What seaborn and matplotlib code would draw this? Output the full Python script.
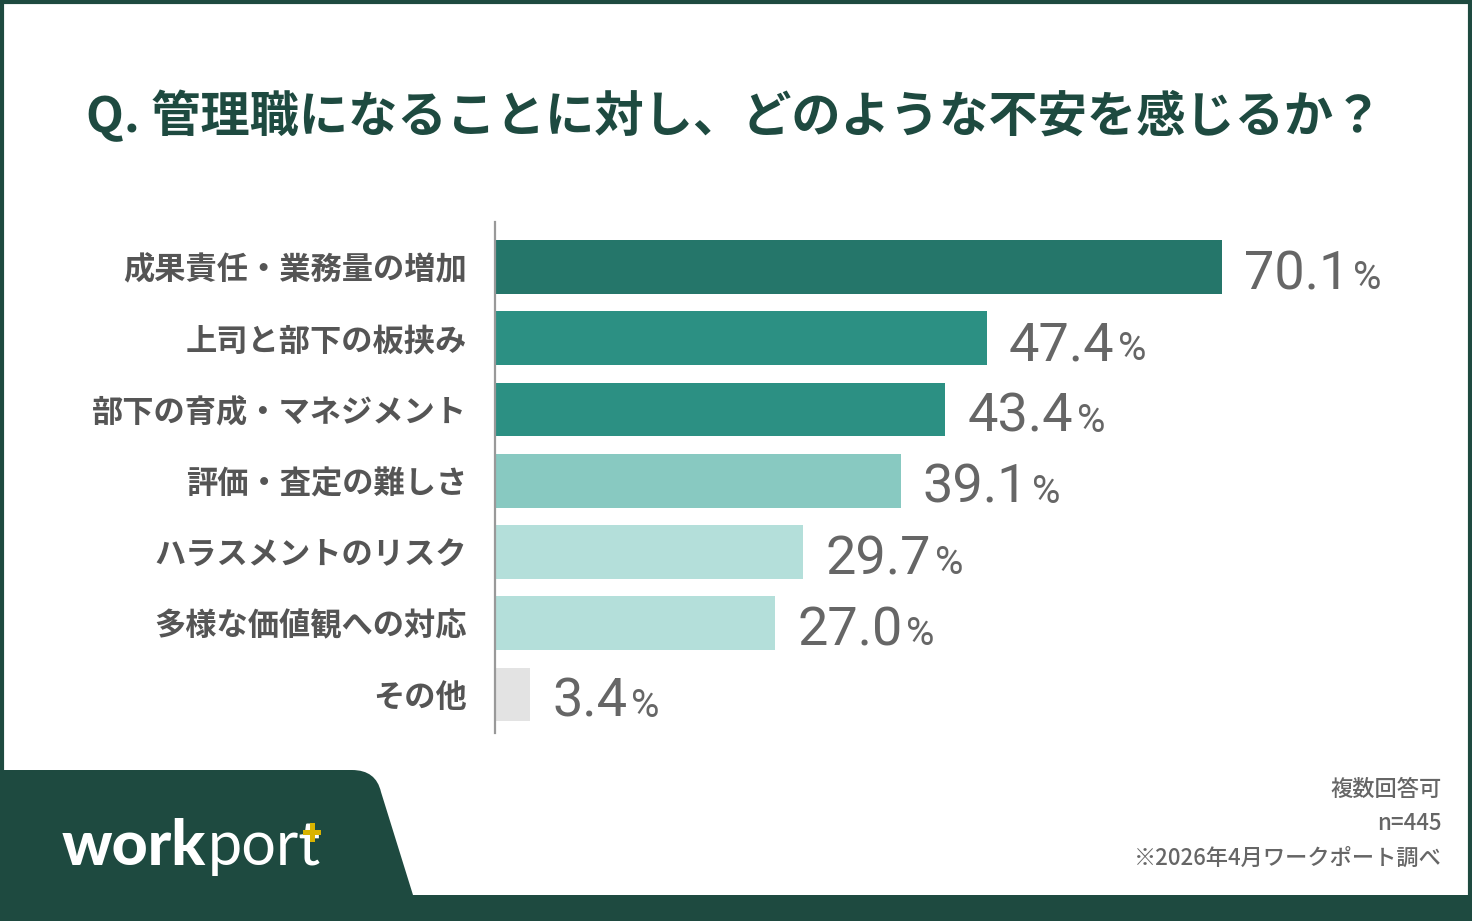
import matplotlib
matplotlib.use("Agg")
import matplotlib.pyplot as plt
import seaborn as sns
import pandas as pd
from matplotlib.patches import Rectangle, PathPatch
from matplotlib.path import Path

# ---- data ----
categories = ["成果責任・業務量の増加", "上司と部下の板挟み", "部下の育成・マネジメント",
              "評価・査定の難しさ", "ハラスメントのリスク", "多様な価値観への対応", "その他"]
values = [70.1, 47.4, 43.4, 39.1, 29.7, 27.0, 3.4]
bar_colors = ["#25766A", "#2C9083", "#2C9083", "#88C9C1", "#B4DFDA", "#B4DFDA", "#E3E3E3"]
title = "Q. 管理職になることに対し、どのような不安を感じるか？"
notes = ["複数回答可", "n=445", "※2026年4月ワークポート調べ"]

DARK = "#1E4A40"
W, H = 1472, 921

sns.set_theme(style="white")
plt.rcParams['font.family'] = ['Noto Sans CJK JP', 'DejaVu Sans']

fig = plt.figure(figsize=(W / 100, H / 100), dpi=100)
fig.patch.set_facecolor("white")

def fx(x):
    return x / W

def fy(y):
    return 1 - y / H

# axes placement (pixels)
ax_l, ax_r, ax_t, ax_b = 495, 1400, 222, 733
ax = fig.add_axes([fx(ax_l), fy(ax_b), fx(ax_r) - fx(ax_l), (ax_b - ax_t) / H])

df = pd.DataFrame({"cat": categories, "val": values})
sns.barplot(data=df, x="val", y="cat", hue="cat", palette=bar_colors, legend=False,
            width=0.757, ax=ax, saturation=1, linewidth=0)

px_per_unit = (1222 - 495) / 70.1
ax.set_xlim(0, (ax_r - ax_l) / px_per_unit)
ax.set_ylim(6.54, -0.632)
ax.set_xlabel("")
ax.set_ylabel("")
ax.set_xticks([])
for s in ["top", "right", "bottom"]:
    ax.spines[s].set_visible(False)
ax.spines["left"].set_color("#999999")
ax.spines["left"].set_linewidth(1.6)
ax.tick_params(axis="y", length=0, pad=20)
for lab in ax.get_yticklabels():
    lab.set_fontsize(22.5)
    lab.set_fontweight("bold")
    lab.set_color("#555555")
ax.set_facecolor("none")

# value labels
fig.canvas.draw()
renderer = fig.canvas.get_renderer()
for i, v in enumerate(values):
    t = ax.annotate(f"{v:.1f}", xy=(v, i), xytext=(22 * 0.72, -22 * 0.72),
                    textcoords="offset points", ha="left", va="baseline",
                    fontsize=39, color="#666666", family=["Roboto", "DejaVu Sans"])
    bb = t.get_window_extent(renderer)
    ax.annotate("%", xy=(v, i), xytext=((22 + bb.width + 4) * 0.72, -22 * 0.72),
                textcoords="offset points", ha="left", va="baseline",
                fontsize=28, color="#666666", family=["Roboto", "DejaVu Sans"])

# title
fig.text(fx(734), fy(116), title, ha="center", va="center", fontsize=35.5,
         fontweight="bold", color=DARK)

# notes
for txt, y in zip(notes, [789, 824, 858]):
    fig.text(fx(1442), fy(y), txt, ha="right", va="center", fontsize=16,
             color="#666666", fontweight="medium")

# frame
fig.patches.append(Rectangle((fx(2), fy(919)), fx(1468), (917) / H, fill=False,
                             edgecolor=DARK, linewidth=3, transform=fig.transFigure,
                             zorder=0))
fig.patches.append(Rectangle((0, 0), 1, 26 / H, facecolor=DARK, edgecolor="none",
                             transform=fig.transFigure, zorder=1))
verts = [(0, 921), (0, 770), (352, 770), (376, 770), (381, 792), (413, 895),
         (413, 921), (0, 921)]
codes = [Path.MOVETO, Path.LINETO, Path.LINETO, Path.CURVE3, Path.CURVE3, Path.LINETO,
         Path.LINETO, Path.CLOSEPOLY]
logo_path = Path([(fx(x), fy(y)) for x, y in verts], codes)
fig.patches.append(PathPatch(logo_path, facecolor=DARK, edgecolor="none",
                             transform=fig.transFigure, zorder=1))

# logo text
t1 = fig.text(fx(62), fy(865), "work", ha="left", va="baseline", fontsize=45,
              fontweight="black", color="white", family=["Lato", "DejaVu Sans"], zorder=3)
fig.canvas.draw()
b1 = t1.get_window_extent(renderer)
t2 = fig.text(fx(b1.x1 + 1), fy(865), "port", ha="left", va="baseline", fontsize=44,
              fontweight="normal", color="white", family=["Lato", "DejaVu Sans"], zorder=3)
b2 = t2.get_window_extent(renderer)
tx = b2.x1 - 8.5  # approximate center of the t stem (pixels from left)
fig.patches.append(Rectangle((fx(tx - 9), fy(835)), 18 / W, 5 / H, facecolor="#D9B300",
                             edgecolor="none", transform=fig.transFigure, zorder=4))
fig.patches.append(Rectangle((fx(tx - 2.5), fy(842)), 5 / W, 19 / H, facecolor="#D9B300",
                             edgecolor="none", transform=fig.transFigure, zorder=4))

fig.savefig("out.png", dpi=100, facecolor="white")
